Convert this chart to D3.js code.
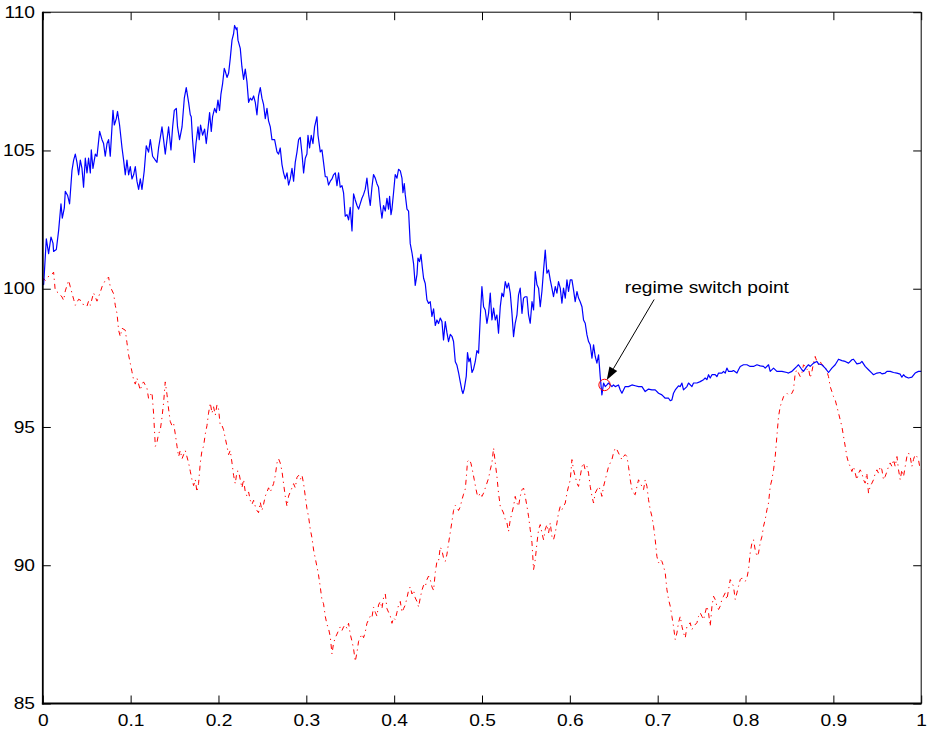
<!DOCTYPE html>
<html>
<head>
<meta charset="utf-8">
<script src="https://cdn.jsdelivr.net/npm/d3@7"></script>
<style>
  html, body { margin: 0; padding: 0; background: #fff; }
  svg { display: block; }
  text { font-family: "Liberation Sans", Arial, Helvetica, sans-serif; }
</style>
</head>
<body>
<svg id="chart" width="929" height="733"></svg>
<script>
// Axis ticks
const xTicks = [0, 0.1, 0.2, 0.3, 0.4, 0.5, 0.6, 0.7, 0.8, 0.9, 1];
const xTickLabels = ["0", "0.1", "0.2", "0.3", "0.4", "0.5", "0.6", "0.7", "0.8", "0.9", "1"];
const yTicks = [85, 90, 95, 100, 105, 110];
const yTickLabels = ["85", "90", "95", "100", "105", "110"];

// Solid blue path: [time, value]
const blueSeries = [[0,100.2],[.001,100.15],[.004,101.8],[.0066,101.27],[.0093,101.87],[.0116,101.65],[.0123,101.35],[.0154,101.42],[.018,102.1],[.0207,103.07],[.0222,102.55],[.0245,102.92],[.0256,103.52],[.0283,103.37],[.0305,103.07],[.0332,104.27],[.0351,104.65],[.037,104.87],[.0389,104.57],[.0408,104.12],[.0427,104.65],[.0446,104.35],[.0464,103.67],[.0484,104.72],[.0503,104.19],[.0521,104.72],[.0541,104.19],[.0552,105.02],[.0571,104.35],[.0598,104.87],[.0617,104.79],[.0647,105.69],[.0674,105.39],[.0692,105.25],[.0711,104.79],[.0731,105.25],[.0749,105.39],[.0768,104.79],[.0799,106.45],[.0814,105.92],[.0837,106.15],[.0851,106.41],[.0874,105.92],[.0902,105.09],[.092,104.65],[.0939,104.12],[.0958,104.65],[.0977,104.12],[.0996,104.42],[.1015,103.97],[.1034,104.12],[.1053,104.42],[.1072,103.89],[.1091,103.59],[.111,103.97],[.1129,103.59],[.1155,104.27],[.1178,105.17],[.1204,104.94],[.1224,105.39],[.125,104.79],[.1281,104.65],[.13,104.57],[.1318,105.09],[.1338,105.47],[.1357,105.85],[.1375,105.39],[.1394,104.87],[.1414,105.39],[.1432,105.85],[.1459,105.02],[.1478,105.85],[.1497,106.45],[.152,106.52],[.1534,105.85],[.1557,105.39],[.1585,105.85],[.1611,106.89],[.1633,107.27],[.166,106.74],[.1679,106.29],[.169,106.22],[.1705,105.39],[.1725,104.57],[.1744,105.25],[.1767,105.85],[.1781,105.39],[.1796,105.92],[.1819,105.55],[.1842,105.77],[.1861,105.25],[.1887,105.99],[.1899,106.37],[.1918,105.69],[.1933,106.22],[.1956,106.52],[.1975,106.37],[.1994,106.82],[.2012,106.45],[.2028,107.04],[.2047,107.42],[.2066,107.97],[.2077,107.87],[.2097,107.64],[.2115,107.79],[.2134,108.32],[.2154,108.99],[.2172,109.22],[.2183,109.52],[.2203,109.37],[.2211,109.44],[.2222,108.99],[.2248,108.69],[.2267,108.02],[.2286,107.57],[.2305,107.94],[.2324,107.49],[.2343,106.74],[.2362,106.89],[.2381,106.82],[.24,106.97],[.2419,106.74],[.2438,106.29],[.2456,106.97],[.2476,107.27],[.2495,106.89],[.2513,106.67],[.2533,106.15],[.2552,106.52],[.257,106.07],[.259,105.85],[.2609,105.39],[.2639,105.39],[.2666,104.95],[.2684,104.87],[.2703,105.09],[.2723,104.49],[.2741,104.19],[.276,103.97],[.278,104.19],[.2798,103.75],[.2817,103.97],[.2837,104.35],[.2855,103.89],[.2874,104.57],[.2894,104.95],[.2912,105.39],[.2931,105.47],[.2951,104.87],[.2969,104.19],[.2988,104.72],[.3007,104.87],[.3019,105.55],[.3037,105.09],[.3056,105.55],[.3076,105.25],[.3094,105.85],[.3121,106.22],[.3133,105.55],[.3159,104.95],[.3178,105.02],[.3196,104.57],[.3216,104.05],[.3235,104.05],[.3253,103.75],[.3273,103.89],[.3292,103.97],[.331,104.12],[.333,104.19],[.3349,103.73],[.3367,104.19],[.3386,103.67],[.3406,103.73],[.3424,103.47],[.3443,102.62],[.3463,102.68],[.3481,102.49],[.35,102.94],[.352,102.09],[.3538,103.43],[.3557,103.21],[.3577,103.01],[.3595,102.88],[.3614,103.08],[.3633,103.27],[.3652,103.41],[.3671,103.6],[.369,104.0],[.3709,103.41],[.3728,103.01],[.3747,103.67],[.3765,104.13],[.3785,104.0],[.3804,103.8],[.3822,103.67],[.3842,103.01],[.3861,102.55],[.3879,103.01],[.3899,102.81],[.3918,103.27],[.3936,102.88],[.3948,103.34],[.3964,102.68],[.3975,102.88],[.3993,103.47],[.4012,104.13],[.4032,104.0],[.405,104.32],[.407,104.26],[.4089,104.0],[.41,103.47],[.4115,103.8],[.4126,103.41],[.4146,102.88],[.4164,102.81],[.4183,101.63],[.4203,101.3],[.4221,100.91],[.424,100.12],[.426,100.52],[.4271,101.11],[.4289,100.98],[.4305,101.24],[.432,100.78],[.4335,100.38],[.4354,100.19],[.4373,99.6],[.4392,99.47],[.4411,99.53],[.443,99.0],[.4449,99.27],[.4468,98.67],[.4487,98.87],[.4505,98.74],[.4525,98.94],[.4544,98.81],[.4562,98.15],[.4582,98.81],[.4601,98.41],[.4619,98.09],[.4639,98.35],[.4658,98.28],[.4676,98.09],[.4696,97.36],[.4715,97.23],[.4733,96.97],[.4752,96.64],[.4772,96.31],[.4783,96.21],[.4798,96.38],[.4821,96.84],[.4835,97.69],[.4851,97.36],[.4866,97.49],[.4886,96.97],[.4904,97.1],[.4923,97.36],[.4942,97.76],[.4961,97.67],[.498,98.93],[.4999,100.08],[.5018,99.35],[.5037,99.23],[.5056,98.75],[.5075,99.11],[.5094,99.84],[.5113,98.87],[.5132,99.3],[.5151,98.87],[.517,99.05],[.5188,98.39],[.5208,99.35],[.5227,99.84],[.5245,99.71],[.5265,100.26],[.5284,100.02],[.5302,100.2],[.5322,99.84],[.5341,99.11],[.5359,98.27],[.5378,98.75],[.5398,99.05],[.5416,99.78],[.5435,100.02],[.5455,99.11],[.5473,99.66],[.5492,99.71],[.5512,99.71],[.553,99.05],[.5549,98.75],[.5569,99.53],[.5587,99.23],[.5606,100.62],[.5626,100.14],[.5644,100.02],[.5663,99.35],[.5682,99.9],[.5701,100.68],[.572,101.4],[.5739,100.56],[.5758,100.68],[.5777,100.32],[.5796,100.02],[.5814,99.71],[.5834,100.08],[.5853,99.84],[.5871,100.26],[.5891,100.02],[.591,99.48],[.5928,100.02],[.5948,99.66],[.5967,100.32],[.5985,99.9],[.6005,100.32],[.6024,100.32],[.6042,99.96],[.6061,99.53],[.6081,99.9],[.6099,99.66],[.6118,99.53],[.6138,99.35],[.6156,98.87],[.6175,98.75],[.6195,98.33],[.6213,98.09],[.6232,97.97],[.6252,97.49],[.627,97.97],[.6289,97.55],[.6308,97.31],[.6327,97.61],[.6346,96.82],[.6365,96.16],[.6384,96.59],[.6403,96.46],[.6422,96.52],[.6441,96.59],[.646,96.52],[.6479,96.46],[.6497,96.52],[.6517,96.46],[.6554,96.52],[.6574,96.34],[.6593,96.22],[.663,96.46],[.6668,96.46],[.6707,96.52],[.6744,96.49],[.6782,96.46],[.6821,96.46],[.6858,96.28],[.6896,96.37],[.6934,96.34],[.6972,96.34],[.701,96.22],[.7048,96.16],[.7086,96.04],[.7124,96.04],[.7143,95.95],[.7162,95.98],[.718,96.22],[.72,96.34],[.7237,96.49],[.7257,96.46],[.7276,96.59],[.7294,96.34],[.7333,96.46],[.7351,96.59],[.739,96.46],[.7408,96.59],[.7447,96.59],[.7484,96.64],[.7522,96.71],[.7541,96.77],[.756,96.71],[.7579,96.89],[.7598,96.77],[.7618,96.89],[.7655,96.89],[.7674,96.82],[.7693,96.95],[.7731,96.95],[.775,97.01],[.7769,96.95],[.7788,97.13],[.7807,97.01],[.7845,97.01],[.7863,97.04],[.7902,96.95],[.792,97.07],[.794,97.19],[.7977,97.25],[.8016,97.25],[.8053,97.19],[.8091,97.19],[.813,97.25],[.8167,97.21],[.8205,97.19],[.8224,97.13],[.8262,97.25],[.8281,97.01],[.8319,97.13],[.8357,97.01],[.8376,97.01],[.8414,97.01],[.8471,96.97],[.8489,96.95],[.8528,97.01],[.8546,97.07],[.8585,97.19],[.8603,97.25],[.8642,97.07],[.866,97.01],[.8699,97.19],[.8717,97.25],[.8736,97.19],[.8774,97.31],[.8812,97.37],[.8831,97.28],[.8869,97.25],[.8907,97.13],[.8945,96.97],[.8983,97.13],[.9021,97.25],[.9059,97.45],[.9097,97.4],[.9135,97.37],[.9173,97.31],[.9211,97.43],[.9229,97.45],[.9268,97.28],[.9306,97.31],[.9325,97.37],[.9362,97.19],[.94,97.07],[.9439,96.95],[.9457,96.89],[.9496,96.95],[.9533,96.97],[.9553,96.92],[.959,96.95],[.961,97.01],[.9647,97.01],[.9685,96.97],[.9724,96.95],[.9761,96.91],[.978,96.8],[.9799,96.89],[.9818,96.82],[.9855,96.77],[.9894,96.8],[.9931,96.95],[.9969,97.01],[1,97.01]];

// Dash-dot red path: [time, value]
const redSeries = [[0,100.3],[.001,100.37],[.0028,100.3],[.0055,100.42],[.0085,100.48],[.0105,100.52],[.0123,100.6],[.0142,99.92],[.018,99.85],[.0219,99.7],[.0237,99.58],[.0256,99.92],[.0294,100.3],[.0313,100.07],[.0351,99.62],[.037,99.4],[.0408,99.62],[.0446,99.55],[.0464,99.4],[.0503,99.37],[.0521,99.55],[.0541,99.4],[.0578,99.85],[.0617,99.55],[.0655,99.88],[.0674,100.07],[.0711,100.3],[.0749,100.42],[.0768,100.07],[.0806,99.82],[.0825,99.4],[.0845,99.1],[.0863,98.5],[.0882,98.27],[.0902,98.57],[.0939,98.5],[.0958,98.05],[.0977,97.6],[.0996,97.3],[.1015,97.0],[.1034,96.7],[.1053,96.55],[.1072,96.77],[.111,96.33],[.1129,96.55],[.1147,96.63],[.1186,96.4],[.1204,96.03],[.1243,96.25],[.1261,95.5],[.1281,94.3],[.13,94.45],[.1318,94.75],[.1338,94.9],[.1357,95.35],[.1375,95.87],[.1394,96.63],[.1414,96.17],[.1432,95.65],[.1451,95.2],[.147,95.05],[.1489,95.13],[.1508,94.75],[.1528,94.3],[.1546,93.93],[.1565,94.15],[.1585,93.85],[.1603,94.0],[.1622,94.15],[.166,93.7],[.1679,93.4],[.1698,93.1],[.1717,92.88],[.1736,93.1],[.1755,92.65],[.1773,92.95],[.1793,93.7],[.1812,94.15],[.183,94.3],[.185,94.75],[.1869,95.05],[.1887,95.5],[.1907,95.87],[.1926,95.5],[.1944,95.73],[.1964,95.43],[.1983,95.8],[.2001,95.65],[.202,95.05],[.204,95.05],[.2058,94.9],[.2077,94.6],[.2097,94.3],[.2115,94.0],[.2134,94.15],[.2154,93.7],[.2172,93.25],[.2191,92.95],[.2211,93.4],[.2229,93.4],[.2248,93.1],[.2267,92.8],[.2286,93.1],[.2305,92.65],[.2324,92.5],[.2343,92.65],[.2362,92.35],[.2381,92.2],[.24,92.35],[.2419,92.13],[.2438,91.98],[.2456,91.9],[.2476,92.28],[.2495,91.98],[.2513,92.2],[.2533,92.5],[.2552,92.65],[.257,92.8],[.259,92.65],[.2609,92.8],[.2627,92.95],[.2647,93.25],[.2666,93.7],[.2684,93.85],[.2703,93.7],[.2723,93.4],[.2741,92.95],[.276,92.5],[.278,92.13],[.2798,92.5],[.2817,92.65],[.2837,92.8],[.2855,92.95],[.2874,92.8],[.2894,93.18],[.2912,93.25],[.2931,93.1],[.2951,93.25],[.2969,92.95],[.2988,92.5],[.3007,92.05],[.3026,91.75],[.3045,91.3],[.3064,91.0],[.3083,90.55],[.3102,90.25],[.3121,89.95],[.3139,89.65],[.3159,89.21],[.3178,88.75],[.3196,88.61],[.3216,88.15],[.3235,87.86],[.3253,87.71],[.3273,87.41],[.3292,86.79],[.331,87.18],[.333,87.38],[.3349,87.51],[.3367,87.64],[.3386,87.77],[.3406,87.64],[.3424,87.77],[.3443,87.84],[.3463,87.71],[.3481,87.9],[.35,87.51],[.352,87.25],[.3538,86.98],[.3557,86.52],[.3577,86.85],[.3595,87.25],[.3614,87.38],[.3633,87.51],[.3652,87.38],[.3671,87.58],[.369,87.9],[.3709,88.03],[.3728,88.16],[.3747,88.1],[.3765,88.49],[.3785,88.3],[.3804,88.16],[.3822,88.56],[.3842,88.69],[.3861,88.43],[.3879,88.82],[.3899,88.96],[.3918,88.43],[.3936,88.3],[.3956,88.16],[.3975,87.9],[.3993,88.1],[.4012,88.03],[.4032,88.3],[.405,88.56],[.407,88.69],[.4089,88.3],[.4107,88.43],[.4126,88.56],[.4146,88.82],[.4164,89.09],[.4183,89.22],[.4203,88.96],[.4221,89.09],[.424,88.82],[.426,88.69],[.4278,88.49],[.4297,88.82],[.4316,89.09],[.4335,89.28],[.4354,89.22],[.4373,89.48],[.4392,89.61],[.4411,89.48],[.443,89.22],[.4449,89.09],[.4468,89.74],[.4487,90.14],[.4505,90.14],[.4525,90.66],[.4544,90.53],[.4562,90.27],[.4582,90.14],[.4601,90.4],[.4619,90.79],[.4639,91.19],[.4658,91.58],[.4676,91.98],[.4696,92.17],[.4715,92.11],[.4733,91.98],[.4752,92.11],[.4772,92.37],[.479,92.57],[.481,92.76],[.4821,93.16],[.4835,93.75],[.4855,93.82],[.4874,93.69],[.4892,93.42],[.4912,93.09],[.4931,92.76],[.4949,92.5],[.4961,92.49],[.498,92.61],[.4999,92.49],[.5018,92.61],[.5037,92.79],[.5056,92.97],[.5075,93.15],[.5094,93.45],[.5113,93.7],[.5132,94.24],[.5151,93.7],[.517,93.21],[.5188,92.61],[.5208,92.13],[.5227,92.01],[.5245,91.89],[.5265,91.65],[.5284,91.53],[.5302,91.22],[.5322,91.65],[.5341,91.89],[.5359,92.13],[.5378,92.49],[.5398,92.25],[.5416,92.13],[.5435,92.49],[.5455,92.73],[.5473,92.79],[.5492,92.49],[.5512,92.13],[.553,91.77],[.5549,91.29],[.5569,90.81],[.5587,89.84],[.5606,90.2],[.5626,90.81],[.5644,91.29],[.5663,91.47],[.5682,91.17],[.5701,90.92],[.572,91.29],[.5739,91.47],[.5758,91.17],[.5777,91.53],[.5796,91.04],[.5814,90.92],[.5834,91.17],[.5853,91.53],[.5871,91.89],[.5891,92.13],[.591,92.01],[.5928,92.13],[.5948,92.25],[.5967,92.61],[.5985,92.85],[.6005,93.09],[.6024,93.82],[.6042,93.45],[.6061,93.21],[.6081,92.97],[.6099,92.85],[.6118,93.21],[.6138,93.57],[.6156,93.7],[.6175,93.45],[.6195,93.57],[.6213,93.33],[.6232,92.85],[.6252,92.49],[.627,92.25],[.6289,92.61],[.6308,92.73],[.6327,92.85],[.6346,92.73],[.6365,92.49],[.6384,92.85],[.6403,93.09],[.6422,93.33],[.6441,93.57],[.646,93.7],[.6479,93.82],[.6497,94.06],[.6517,94.24],[.6536,94.18],[.6554,94.06],[.6574,93.93],[.6593,93.82],[.6611,93.93],[.663,94.0],[.665,93.93],[.6668,93.57],[.6688,93.09],[.6707,92.73],[.6725,92.61],[.6744,92.55],[.6764,92.85],[.6782,93.09],[.6801,92.97],[.6821,92.85],[.6839,92.73],[.6858,93.09],[.6878,92.85],[.6896,92.37],[.6915,92.01],[.6934,91.77],[.6953,91.41],[.6972,90.92],[.6991,90.32],[.701,90.08],[.7029,90.2],[.7048,90.14],[.7067,89.96],[.7086,89.72],[.7105,89.12],[.7124,88.76],[.7143,88.52],[.7162,88.15],[.718,87.79],[.72,87.31],[.7219,87.55],[.7237,87.92],[.7257,88.15],[.7276,87.79],[.7294,87.55],[.7314,87.37],[.7333,87.79],[.737,87.92],[.739,87.67],[.7408,87.79],[.7447,87.92],[.7465,88.15],[.7484,88.28],[.7504,88.15],[.7522,88.03],[.7541,88.28],[.756,88.52],[.7579,88.28],[.7598,87.79],[.7618,88.52],[.7636,88.88],[.7655,88.76],[.7674,88.52],[.7693,88.4],[.7712,88.52],[.7731,88.76],[.775,88.88],[.7769,89.0],[.7788,88.76],[.7807,89.12],[.7826,89.48],[.7845,89.36],[.7863,89.24],[.7883,88.76],[.7902,89.0],[.792,89.24],[.794,89.48],[.7959,89.54],[.7977,89.48],[.7997,89.42],[.8016,89.54],[.8034,89.84],[.8053,90.44],[.8073,90.81],[.8091,90.92],[.811,90.56],[.813,90.32],[.8148,90.44],[.8167,90.81],[.8187,91.04],[.8205,91.41],[.8224,91.65],[.8244,92.01],[.8262,92.25],[.8281,92.85],[.83,93.09],[.8319,93.45],[.8338,93.93],[.8357,94.66],[.8376,95.38],[.8395,95.74],[.8414,95.92],[.8433,96.1],[.8452,96.16],[.8471,96.22],[.8489,96.16],[.8509,96.16],[.8528,96.22],[.8546,96.34],[.8566,96.95],[.8585,97.07],[.8603,96.95],[.8623,96.82],[.8642,96.95],[.866,97.25],[.8679,97.19],[.8699,97.07],[.8717,97.13],[.8736,96.77],[.8756,97.01],[.8774,97.31],[.8793,97.55],[.8812,97.37],[.8831,97.25],[.885,97.37],[.8869,97.25],[.8907,97.19],[.8926,97.01],[.8945,96.82],[.8964,96.46],[.8983,96.28],[.9002,96.1],[.9021,95.98],[.904,95.74],[.9059,95.5],[.9078,95.26],[.9097,95.02],[.9116,94.66],[.9135,94.3],[.9154,93.93],[.9173,93.7],[.9192,93.57],[.9211,93.39],[.9229,93.57],[.9249,93.33],[.9268,93.09],[.9287,93.33],[.9306,93.45],[.9325,93.33],[.9343,93.09],[.9362,92.97],[.9381,93.33],[.94,92.61],[.9419,92.85],[.9439,92.97],[.9457,93.09],[.9477,93.33],[.9496,93.45],[.9514,93.33],[.9533,93.57],[.9553,93.45],[.9571,93.09],[.959,93.21],[.961,93.39],[.9628,93.57],[.9647,93.7],[.9667,93.57],[.9685,93.82],[.9704,93.57],[.9724,93.93],[.9742,93.45],[.9761,93.09],[.978,93.45],[.9799,93.21],[.9818,93.57],[.9837,93.93],[.9855,94.06],[.9875,93.93],[.9894,93.57],[.9912,93.82],[.9931,94.0],[.995,93.93],[.9969,93.82],[.9989,93.45]];

// Regime switch marker and its callout
const switchPoint = { t: 0.6395, v: 96.52 };
const calloutText = "regime switch point";
const calloutLabel = { t: 0.6625, v: 99.83 };
const calloutTail = { t: 0.696, v: 99.61 };
const calloutTip = { t: 0.642, v: 96.70 };

const svg = d3.select("#chart");
svg.append("rect").attr("width", 929).attr("height", 733).attr("fill", "#fff");

const x = d3.scaleLinear().domain([0, 1]).range([42.8, 921.2]);
const y = d3.scaleLinear().domain([85, 110]).range([703.5, 12.2]);

const FONT = 16, STRETCH = 1.2, TICK = 8;

function styleAxis(g) {
  g.select(".domain").remove();
  g.selectAll(".tick line").attr("stroke", "#000").attr("stroke-width", 1);
  g.selectAll(".tick text")
    .attr("font-size", FONT)
    .attr("fill", "#000")
    .attr("font-family", '"Liberation Sans", Arial, Helvetica, sans-serif')
    .attr("transform", `scale(${STRETCH},1)`);
}

// Bottom axis with labels
svg.append("g")
  .attr("transform", `translate(0,${y(85)})`)
  .call(d3.axisBottom(x).tickValues(xTicks)
    .tickFormat((d, i) => xTickLabels[i]).tickSize(-TICK).tickPadding(11))
  .call(styleAxis);

// Left axis with labels
svg.append("g")
  .attr("transform", `translate(${x(0)},0)`)
  .call(d3.axisLeft(y).tickValues(yTicks)
    .tickFormat((d, i) => yTickLabels[i]).tickSize(-TICK).tickPadding(6.5))
  .call(styleAxis);

// Mirrored ticks on top and right
svg.append("g")
  .attr("transform", `translate(0,${y(110)})`)
  .call(d3.axisTop(x).tickValues(xTicks).tickFormat("").tickSize(-TICK))
  .call(styleAxis);
svg.append("g")
  .attr("transform", `translate(${x(1)},0)`)
  .call(d3.axisRight(y).tickValues(yTicks).tickFormat("").tickSize(-TICK))
  .call(styleAxis);

// Data lines
const line = d3.line().x(d => x(d[0])).y(d => y(d[1]));

svg.append("path")
  .datum(redSeries)
  .attr("d", line)
  .attr("fill", "none")
  .attr("stroke", "#ff0000")
  .attr("stroke-width", 1)
  .attr("stroke-dasharray", "5,4,1.2,4");

svg.append("path")
  .datum(blueSeries)
  .attr("d", line)
  .attr("fill", "none")
  .attr("stroke", "#0000ff")
  .attr("stroke-width", 1.2)
  .attr("stroke-linejoin", "round");

// Frame: heavier left/bottom, thin top/right
const fx0 = x(0), fx1 = x(1), fy0 = y(85), fy1 = y(110);
svg.append("line").attr("x1", fx0).attr("x2", fx1).attr("y1", fy1).attr("y2", fy1)
  .attr("stroke", "#000").attr("stroke-width", 1);
svg.append("line").attr("x1", fx1).attr("x2", fx1).attr("y1", fy1).attr("y2", fy0)
  .attr("stroke", "#000").attr("stroke-width", 1);
svg.append("line").attr("x1", fx0).attr("x2", fx0).attr("y1", fy1 - 0.5).attr("y2", fy0 + 0.9)
  .attr("stroke", "#000").attr("stroke-width", 1.8);
svg.append("line").attr("x1", fx0 - 0.9).attr("x2", fx1 + 0.5).attr("y1", fy0).attr("y2", fy0)
  .attr("stroke", "#000").attr("stroke-width", 1.8);

// Switch-point circle
svg.append("circle")
  .attr("cx", x(switchPoint.t)).attr("cy", y(switchPoint.v))
  .attr("r", 5.7)
  .attr("fill", "none").attr("stroke", "#ff0000").attr("stroke-width", 1);

// Callout arrow
const ax0 = x(calloutTail.t), ay0 = y(calloutTail.v);
const ax1 = x(calloutTip.t), ay1 = y(calloutTip.v);
const ang = Math.atan2(ay1 - ay0, ax1 - ax0);
const headLen = 13, headHalf = 4.5;
const bx = ax1 - headLen * Math.cos(ang), by = ay1 - headLen * Math.sin(ang);
svg.append("line")
  .attr("x1", ax0).attr("y1", ay0).attr("x2", bx).attr("y2", by)
  .attr("stroke", "#000").attr("stroke-width", 1);
svg.append("polygon")
  .attr("points", [
    [ax1, ay1],
    [bx + headHalf * Math.sin(ang), by - headHalf * Math.cos(ang)],
    [bx - headHalf * Math.sin(ang), by + headHalf * Math.cos(ang)]
  ].map(p => p.join(",")).join(" "))
  .attr("fill", "#000");

svg.append("text")
  .attr("transform", `translate(${x(calloutLabel.t)},${y(calloutLabel.v)}) scale(${STRETCH},1)`)
  .attr("font-size", FONT)
  .attr("fill", "#000")
  .text(calloutText);
</script>
</body>
</html>
